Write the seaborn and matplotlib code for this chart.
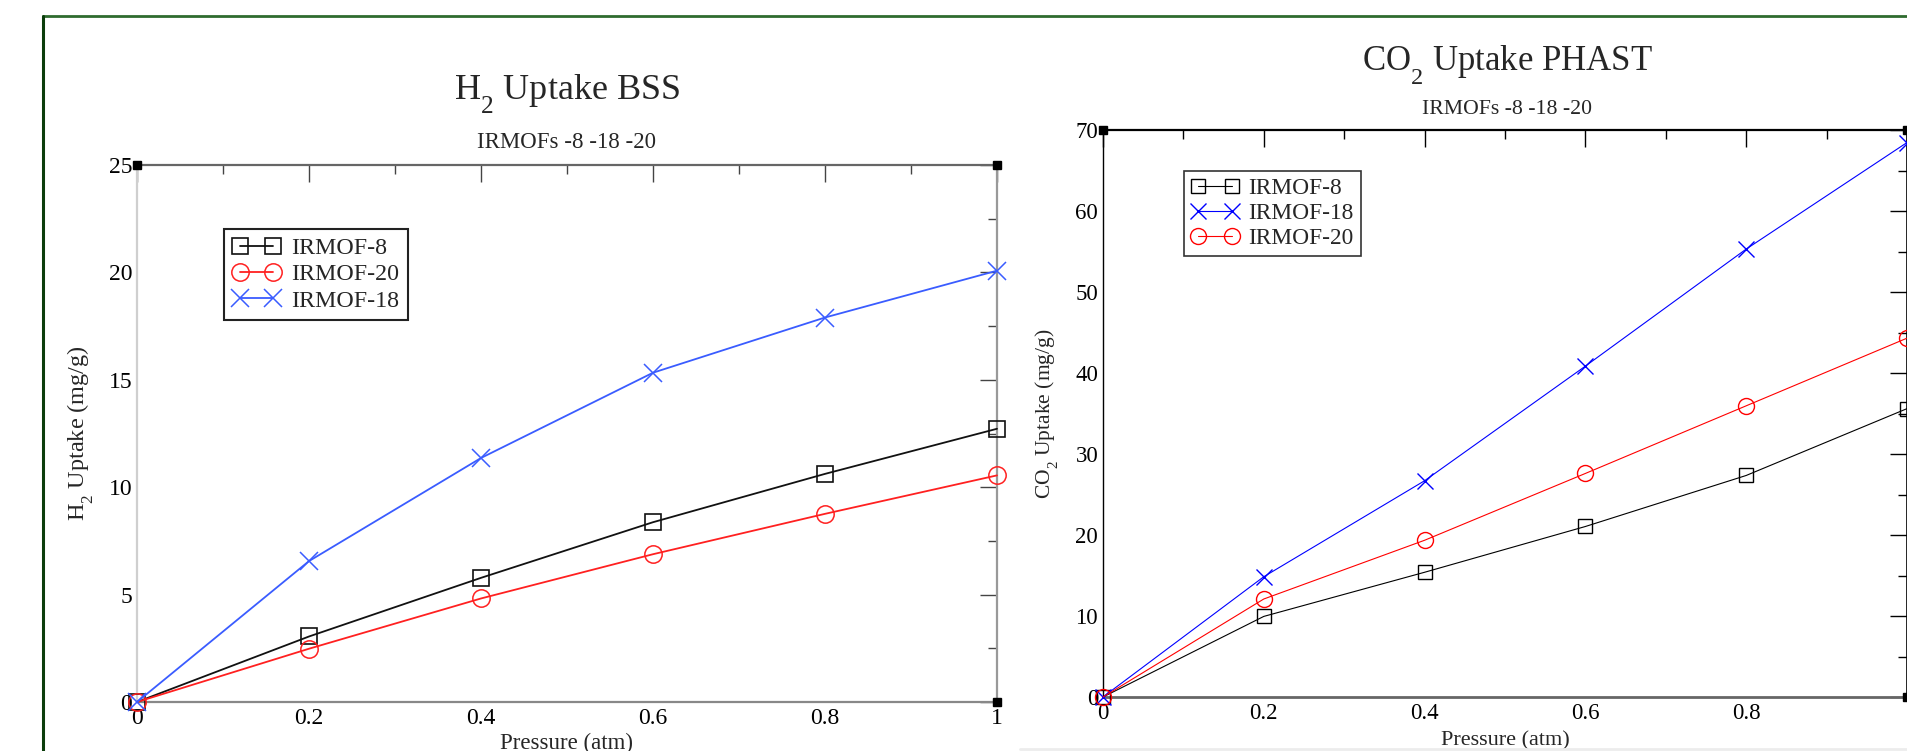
"""
plot.py -- H2 / CO2 uptake isotherms for IRMOF-8, -18, -20 (BSS vs PHAST).
"""

import matplotlib
matplotlib.use("Agg")
import matplotlib.pyplot as plt
from matplotlib.lines import Line2D
from matplotlib.ticker import MultipleLocator
import seaborn as sns

# -- Data ----------------------------------------------------------------------

PRESSURE = [0.0, 0.2, 0.4, 0.6, 0.8, 1.0]
X_TICKS = [0.0, 0.2, 0.4, 0.6, 0.8, 1.0]
X_TICK_LABELS = ["0", "0.2", "0.4", "0.6", "0.8", "1"]
X_TICK_LABELS_CO2 = ["0", "0.2", "0.4", "0.6", "0.8", ""]

H2_IRMOF8 = [0.0, 3.05, 5.78, 8.37, 10.62, 12.72]
H2_IRMOF20 = [0.0, 2.48, 4.82, 6.88, 8.76, 10.55]
H2_IRMOF18 = [0.0, 6.56, 11.36, 15.33, 17.90, 20.08]

CO2_IRMOF8 = [0.0, 9.95, 15.40, 21.05, 27.35, 35.60]
CO2_IRMOF18 = [0.0, 14.85, 26.70, 40.85, 55.30, 68.45]
CO2_IRMOF20 = [0.0, 12.10, 19.35, 27.60, 35.95, 44.30]

W, H = 1908, 751


def fx(px):
    return px / W


def fy(py):
    return 1 - py / H


# -- Style ---------------------------------------------------------------------

sns.set_theme(style="white")
plt.rcParams["font.family"] = ["Liberation Serif", "DejaVu Serif"]
plt.rcParams["mathtext.fontset"] = "custom"
plt.rcParams["mathtext.rm"] = "Liberation Serif"
plt.rcParams["mathtext.it"] = "Liberation Serif:italic"
plt.rcParams["mathtext.bf"] = "Liberation Serif:bold"

# grace drops its subscripts lower than mathtext does
try:
    from matplotlib import _mathtext
    _mathtext.FontConstantsBase.subdrop = 0.85
    _mathtext.FontConstantsBase.sub1 = 0.85
except ImportError:
    pass

fig = plt.figure(figsize=(W / 100, H / 100), dpi=100)
fig.patch.set_facecolor("white")


def style_axes(ax, ymax, ymajor, tick_color, fs, xlabels):
    ax.set_xlim(0, 1)
    ax.set_ylim(0, ymax)
    ax.set_xticks(X_TICKS)
    ax.set_xticklabels(xlabels)
    ax.xaxis.set_minor_locator(MultipleLocator(0.1))
    ax.yaxis.set_major_locator(MultipleLocator(ymajor))
    ax.yaxis.set_minor_locator(MultipleLocator(ymajor / 2))
    ax.tick_params(which="both", direction="in", top=True, right=True,
                   color=tick_color, labelsize=fs, labelcolor="black")
    ax.tick_params(which="major", length=12, width=1.0)
    ax.tick_params(which="minor", length=6.5, width=1.0)
    ax.tick_params(axis="x", pad=4)
    ax.tick_params(axis="y", pad=3.5)
    ax.set_facecolor("white")
    # black corner squares (grace frame handles)
    ax.plot([0, 1, 1], [1, 1, 0], ls="none", marker="s", ms=6, color="black",
            transform=ax.transAxes, clip_on=False, zorder=5)


def draw(ax, y, color, marker, ms, label, lw, mew):
    sns.lineplot(x=PRESSURE, y=y, ax=ax, color=color, lw=lw, marker=marker,
                 ms=ms, mfc="none", mec=color, mew=mew, label=label,
                 clip_on=False, zorder=3)


# -- Left panel: H2 BSS --------------------------------------------------------

ax1 = fig.add_axes([fx(137), fy(702), fx(997 - 137), (702 - 165) / H])
draw(ax1, H2_IRMOF8, "#111111", "s", 12, "IRMOF-8", 1.3, 1.2)
draw(ax1, H2_IRMOF20, "#ff2020", "o", 12.5, "IRMOF-20", 1.3, 1.1)
draw(ax1, H2_IRMOF18, "#3a5cff", "x", 12.5, "IRMOF-18", 1.3, 1.1)
style_axes(ax1, 25, 5, "#444444", 17, X_TICK_LABELS)
for side, col, lw in [("left", "#cfcfcf", 1.6), ("top", "#666666", 1.6),
                      ("right", "#999999", 1.6), ("bottom", "#888888", 1.6)]:
    ax1.spines[side].set_color(col)
    ax1.spines[side].set_linewidth(lw)
ax1.set_xlabel("Pressure (atm)", fontsize=16.5)
ax1.set_ylabel("H$_2$ Uptake (mg/g)", fontsize=17.5)
ax1.xaxis.set_label_coords(0.5, -0.058)
ax1.yaxis.set_label_coords(-0.048, 0.5)
leg1 = ax1.legend(loc="upper left", bbox_to_anchor=(fx(224), fy(229)),
                  bbox_transform=fig.transFigure, borderaxespad=0,
                  fontsize=17.3, numpoints=2, handlelength=2.0,
                  handletextpad=0.45, borderpad=0.35, labelspacing=0.18,
                  fancybox=False, framealpha=1, edgecolor="#222222")
leg1.get_frame().set_linewidth(1.5)

fig.text(fx(567), fy(99.6), "H$_2$ Uptake BSS", ha="center", va="baseline",
         fontsize=26)
fig.text(fx(567), fy(147.5), "IRMOFs -8 -18 -20", ha="center", va="baseline",
         fontsize=16.5)

# -- Right panel: CO2 PHAST ----------------------------------------------------

ax2 = fig.add_axes([fx(1103), fy(697), fx(1907 - 1103), (697 - 130) / H])
draw(ax2, CO2_IRMOF8, "black", "s", 10, "IRMOF-8", 0.8, 1.0)
draw(ax2, CO2_IRMOF18, "#0000ff", "x", 12, "IRMOF-18", 0.8, 1.0)
draw(ax2, CO2_IRMOF20, "#ff0000", "o", 11.5, "IRMOF-20", 0.8, 1.0)
style_axes(ax2, 70, 10, "black", 16.5, X_TICK_LABELS_CO2)
for side, col, lw in [("left", "black", 1.0), ("top", "black", 1.6),
                      ("right", "black", 1.2), ("bottom", "#666666", 2.0)]:
    ax2.spines[side].set_color(col)
    ax2.spines[side].set_linewidth(lw)
ax2.set_xlabel("Pressure (atm)", fontsize=16)
ax2.set_ylabel("CO$_2$ Uptake (mg/g)", fontsize=15.5)
ax2.xaxis.set_label_coords(0.5, -0.060)
ax2.yaxis.set_label_coords(-0.052, 0.5)
leg2 = ax2.legend(loc="upper left", bbox_to_anchor=(fx(1184), fy(171)),
                  bbox_transform=fig.transFigure, borderaxespad=0,
                  fontsize=16.8, numpoints=2, handlelength=2.05,
                  handletextpad=0.4, borderpad=0.3, labelspacing=0.16,
                  fancybox=False, framealpha=1, edgecolor="#333333")
leg2.get_frame().set_linewidth(1.2)

fig.text(fx(1507), fy(70.4), "CO$_2$ Uptake PHAST", ha="center", va="baseline",
         fontsize=25)
fig.text(fx(1507), fy(114), "IRMOFs -8 -18 -20", ha="center", va="baseline",
         fontsize=15.7)

# -- Page frame ----------------------------------------------------------------

fig.add_artist(Line2D([fx(43), 1], [fy(15.5), fy(15.5)], color="#2f6b2f",
                      lw=2.0, transform=fig.transFigure))
fig.add_artist(Line2D([fx(43), fx(43)], [fy(15.5), 0], color="#0b3d0b",
                      lw=2.2, transform=fig.transFigure))
fig.add_artist(Line2D([fx(1020), 1], [fy(749), fy(749)], color="#ececec",
                      lw=2.0, transform=fig.transFigure))

fig.savefig("out.png", dpi=100, facecolor="white")
